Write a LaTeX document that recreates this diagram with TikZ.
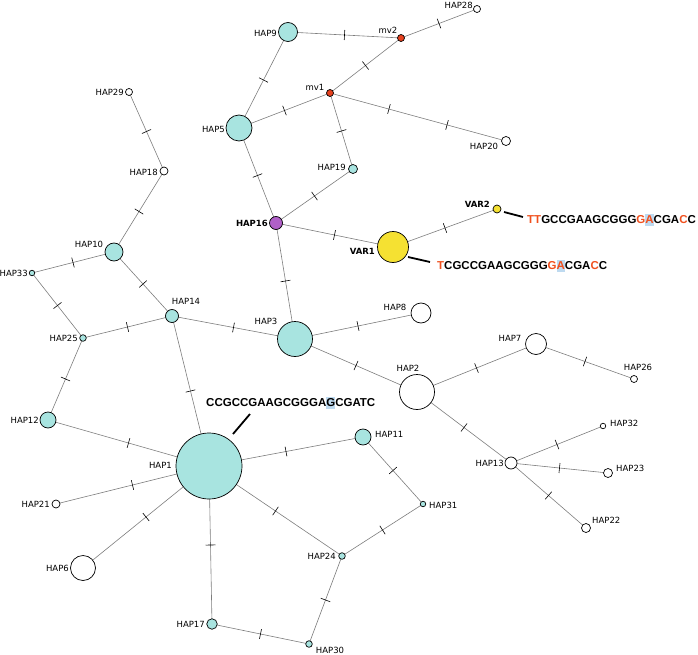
\documentclass[tikz,border=0pt]{standalone}
\usepackage{fontspec}
\setmainfont{DejaVu Sans}
\newfontfamily\seqfont{Liberation Sans}
\usetikzlibrary{decorations.markings,backgrounds}
\definecolor{cyanfill}{RGB}{168,228,224}
\definecolor{purplefill}{RGB}{176,96,200}
\definecolor{yellowfill}{RGB}{245,225,50}
\definecolor{mvred}{RGB}{230,65,30}
\definecolor{seqred}{RGB}{240,80,30}
\definecolor{hlblue}{RGB}{190,218,240}
\definecolor{edgegray}{RGB}{125,125,125}
\newsavebox\hlsave
\newcommand\hlchar[1]{\sbox\hlsave{#1}\rlap{\textcolor{hlblue}{\rule[-2.5pt]{\wd\hlsave}{12.5pt}}}\usebox\hlsave}
\newcommand\rd[1]{\textcolor{seqred}{#1}}
\begin{document}
\begin{tikzpicture}[x=1pt,y=-1pt,
  hap/.style={circle,draw=black,line width=0.7pt,inner sep=0pt,minimum size=#1pt},
  hapc/.style={hap=#1,fill=cyanfill},
  hapw/.style={hap=#1,fill=white},
  mvnode/.style={hap=#1,fill=mvred},
  lab/.style={font=\fontsize{8.5}{10}\selectfont,inner sep=0pt},
  blab/.style={font=\fontsize{8.5}{10}\selectfont\bfseries,inner sep=0pt},
  seqtext/.style={font=\seqfont\fontsize{11.5}{13}\selectfont\bfseries,inner sep=0pt,anchor=west},
  edge/.style={draw=edgegray,line width=0.6pt},
  mut/.style={postaction={decorate,decoration={markings,mark=at position 0.5 with {\draw[black,line width=0.6pt] (0,-5pt) -- (0,5pt);}}}},
  muttwo/.style={postaction={decorate,decoration={markings,
     mark=at position 0.335 with {\draw[black,line width=0.6pt] (0,-5pt) -- (0,5pt);},
     mark=at position 0.665 with {\draw[black,line width=0.6pt] (0,-5pt) -- (0,5pt);}}}},
  pointer/.style={draw=black,line width=1.8pt}
]
\useasboundingbox (0,0) rectangle (698,655);

% nodes
\node[hapw=7] (HAP28) at (477,9) {};
\node[hapc=19] (HAP9) at (288,32) {};
\node[mvnode=7] (mv2) at (401,38) {};
\node[mvnode=7] (mv1) at (330,93) {};
\node[hapc=26] (HAP5) at (239,128) {};
\node[hapw=9] (HAP20) at (506,141) {};
\node[hapw=7] (HAP29) at (129,92) {};
\node[hapw=8] (HAP18) at (164,171) {};
\node[hapc=9] (HAP19) at (353,169) {};
\node[hap=13,fill=purplefill] (HAP16) at (276,223) {};
\node[hap=31,fill=yellowfill] (VAR1) at (393,247) {};
\node[hap=8,fill=yellowfill] (VAR2) at (497,209) {};
\node[hapc=18] (HAP10) at (114,252) {};
\node[hapc=5.5] (HAP33) at (32,273) {};
\node[hapc=13] (HAP14) at (172,316) {};
\node[hapc=6.6] (HAP25) at (83,338) {};
\node[hapc=35] (HAP3) at (295,339) {};
\node[hapw=20] (HAP8) at (421,313) {};
\node[hapw=21] (HAP7) at (536,344) {};
\node[hapw=7] (HAP26) at (634,379) {};
\node[hapw=35] (HAP2) at (417,392) {};
\node[hapc=16] (HAP12) at (48,420) {};
\node[hapc=16] (HAP11) at (363,437) {};
\node[hapw=12] (HAP13) at (511,463) {};
\node[hapw=5.5] (HAP32) at (603,426) {};
\node[hapw=9] (HAP23) at (608,473) {};
\node[hapw=9] (HAP22) at (586,528) {};
\node[hapc=66] (HAP1) at (209,466) {};
\node[hapw=8] (HAP21) at (56,504) {};
\node[hapc=5.5] (HAP31) at (423,504) {};
\node[hapc=6.6] (HAP24) at (342,556) {};
\node[hapw=25] (HAP6) at (83,568) {};
\node[hapc=10.5] (HAP17) at (212,624) {};
\node[hapc=6.6] (HAP30) at (309,644) {};

% edges
\begin{scope}[on background layer]
\draw[edge,mut] (HAP29.center) -- (HAP18.center);
\draw[edge,mut] (HAP18.center) -- (HAP10.center);
\draw[edge,mut] (HAP10.center) -- (HAP33.center);
\draw[edge,mut] (HAP10.center) -- (HAP14.center);
\draw[edge,mut] (HAP33.center) -- (HAP25.center);
\draw[edge,mut] (HAP25.center) -- (HAP14.center);
\draw[edge,mut] (HAP25.center) -- (HAP12.center);
\draw[edge,mut] (HAP14.center) -- (HAP3.center);
\draw[edge,mut] (HAP14.center) -- (HAP1.center);
\draw[edge,mut] (HAP12.center) -- (HAP1.center);
\draw[edge,mut] (HAP21.center) -- (HAP1.center);
\draw[edge,mut] (HAP6.center) -- (HAP1.center);
\draw[edge,mut] (HAP1.center) -- (HAP11.center);
\draw[edge,mut] (HAP1.center) -- (HAP24.center);
\draw[edge,mut] (HAP1.center) -- (HAP17.center);
\draw[edge,mut] (HAP11.center) -- (HAP31.center);
\draw[edge,mut] (HAP31.center) -- (HAP24.center);
\draw[edge,mut] (HAP24.center) -- (HAP30.center);
\draw[edge,mut] (HAP17.center) -- (HAP30.center);
\draw[edge,mut] (HAP3.center) -- (HAP16.center);
\draw[edge,mut] (HAP3.center) -- (HAP8.center);
\draw[edge,mut] (HAP3.center) -- (HAP2.center);
\draw[edge,mut] (HAP2.center) -- (HAP7.center);
\draw[edge,mut] (HAP7.center) -- (HAP26.center);
\draw[edge,mut] (HAP2.center) -- (HAP13.center);
\draw[edge,mut] (HAP13.center) -- (HAP32.center);
\draw[edge,mut] (HAP13.center) -- (HAP23.center);
\draw[edge,mut] (HAP13.center) -- (HAP22.center);
\draw[edge,mut] (HAP16.center) -- (HAP5.center);
\draw[edge,mut] (HAP16.center) -- (HAP19.center);
\draw[edge,mut] (HAP16.center) -- (VAR1.center);
\draw[edge,mut] (VAR1.center) -- (VAR2.center);
\draw[edge,mut] (HAP5.center) -- (HAP9.center);
\draw[edge,mut] (HAP5.center) -- (mv1.center);
\draw[edge,mut] (HAP9.center) -- (mv2.center);
\draw[edge,mut] (mv1.center) -- (mv2.center);
\draw[edge,mut] (mv2.center) -- (HAP28.center);
\draw[edge,muttwo] (mv1.center) -- (HAP20.center);
\draw[edge,mut] (mv1.center) -- (HAP19.center);
\end{scope}

% labels
\node[lab,anchor=east] (l28) at (473,5) {HAP28};
\node[lab,anchor=east] (l9) at (277,33) {HAP9};
\node[lab] (lmv2) at (388,30) {mv2};
\node[lab] (lmv1) at (315,87) {mv1};
\node[lab,anchor=east] (l5) at (225,129) {HAP5};
\node[lab] (l20) at (484,146) {HAP20};
\node[lab,anchor=east] (l29) at (124,92) {HAP29};
\node[lab,anchor=east] (l18) at (158,172) {HAP18};
\node[lab,anchor=east] (l19) at (346,167) {HAP19};
\node[blab,anchor=east] (l16) at (268,223) {HAP16};
\node[blab,anchor=east] (lv1) at (375,251) {VAR1};
\node[blab,anchor=east] (lv2) at (490,204) {VAR2};
\node[lab] (l10) at (89,244) {HAP10};
\node[lab,anchor=east] (l33) at (28,273) {HAP33};
\node[lab] (l14) at (186,301) {HAP14};
\node[lab,anchor=east] (l25) at (78,338) {HAP25};
\node[lab] (l3) at (266,321) {HAP3};
\node[lab] (l8) at (395,307) {HAP8};
\node[lab] (l7) at (510,338) {HAP7};
\node[lab] (l26) at (638,367) {HAP26};
\node[lab] (l2) at (408,368) {HAP2};
\node[lab,anchor=east] (l12) at (39,420) {HAP12};
\node[lab,anchor=west] (l11) at (375,434) {HAP11};
\node[lab,anchor=east] (l13) at (504,463) {HAP13};
\node[lab,anchor=west] (l32) at (610,423) {HAP32};
\node[lab,anchor=west] (l23) at (616,468) {HAP23};
\node[lab,anchor=west] (l22) at (592,520) {HAP22};
\node[lab,anchor=east] (l1) at (172,465) {HAP1};
\node[lab,anchor=east] (l21) at (50,504) {HAP21};
\node[lab,anchor=west] (l31) at (429,505) {HAP31};
\node[lab,anchor=east] (l24) at (336,556) {HAP24};
\node[lab,anchor=east] (l6) at (69,568) {HAP6};
\node[lab,anchor=east] (l17) at (205,624) {HAP17};
\node[lab] (l30) at (330,650) {HAP30};

% sequences
\node[seqtext] (s2) at (527,220) {\rd{TT}GCCGAAGCGGG\rd{G}\hlchar{\rd{A}}CGA\rd{C}C};
\node[seqtext] (s1) at (437,266) {\rd{T}CGCCGAAGCGGG\rd{G}\hlchar{\rd{A}}CGA\rd{C}C};
\node[seqtext] (s0) at (206,403) {CCGCCGAAGCGGGA\hlchar{G}CGATC};

\coordinate (p2a) at (504,212);
\coordinate (p2b) at (523,217);
\coordinate (p1a) at (408,257);
\coordinate (p1b) at (430,262);
\coordinate (p0a) at (233,434);
\coordinate (p0b) at (250,414);
\draw[pointer] (p2a) -- (p2b);
\draw[pointer] (p1a) -- (p1b);
\draw[pointer] (p0a) -- (p0b);
\end{tikzpicture}
\end{document}
